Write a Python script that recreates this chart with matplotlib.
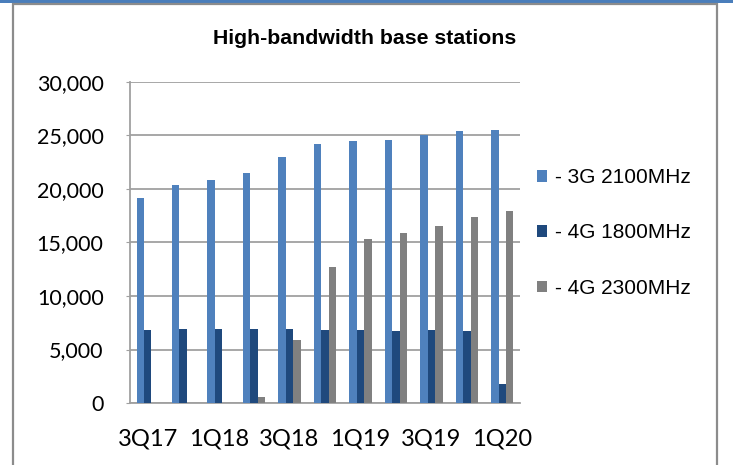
import matplotlib
matplotlib.use("Agg")
import matplotlib.pyplot as plt
from matplotlib.patches import Rectangle
from matplotlib.ticker import FuncFormatter
import numpy as np

quarters = ["3Q17", "4Q17", "1Q18", "2Q18", "3Q18", "4Q18",
            "1Q19", "2Q19", "3Q19", "4Q19", "1Q20"]
g3_2100 = [19200, 20400, 20800, 21500, 23000, 24200, 24500, 24600, 25000, 25400, 25500]
g4_1800 = [6800, 6900, 6900, 6900, 6900, 6800, 6800, 6700, 6800, 6700, 1800]
g4_2300 = [0, 0, 0, 600, 5900, 12700, 15300, 15900, 16500, 17400, 17900]
series_names = ["- 3G 2100MHz", "- 4G 1800MHz", "- 4G 2300MHz"]
colors = ["#4F81BD", "#1F497D", "#808080"]

W, H = 733, 465
fig = plt.figure(figsize=(W / 100, H / 100), dpi=100)

# blue strip on top and grey frame
fig.patches.append(Rectangle((0, 1 - 3 / H), 1, 3 / H, transform=fig.transFigure,
                             facecolor="#4A7EBB", edgecolor="none"))
fig.patches.append(Rectangle((13.5 / W, -0.05), (717 - 13.5) / W, 1.05 - 4.5 / H,
                             transform=fig.transFigure, facecolor="none",
                             edgecolor="#8C8C8C", linewidth=1.6))

ax = fig.add_axes([130 / W, 1 - 403 / H, (520 - 130) / W, (403 - 82) / H])

x = np.arange(len(quarters))
w = 0.21
for i, (vals, name, c) in enumerate(zip([g3_2100, g4_1800, g4_2300], series_names, colors)):
    ax.bar(x + (i - 1) * w, vals, w, color=c, label=name, zorder=3)

ax.set_ylim(0, 30000)
ax.set_xlim(-0.5, len(quarters) - 0.5)
ax.set_yticks(range(0, 30001, 5000))
ax.yaxis.set_major_formatter(FuncFormatter(lambda v, p: "{:,.0f}".format(v)))
ax.set_xticks(x[::2])
ax.set_xticklabels(quarters[::2])
ax.grid(axis="y", color="#A0A0A0", linewidth=1.3, zorder=0)
for s in ["top", "right"]:
    ax.spines[s].set_visible(False)
for s in ["left", "bottom"]:
    ax.spines[s].set_color("#A0A0A0")
    ax.spines[s].set_linewidth(1.3)
ax.tick_params(axis="y", length=3, color="#A0A0A0", labelsize=15.5, pad=16)
ax.tick_params(axis="x", length=0, labelsize=17, pad=18)
for lab in ax.get_xticklabels() + ax.get_yticklabels():
    lab.set_family(["Lato", "DejaVu Sans"])

fig.text(365 / W, 1 - 38 / H, "High-bandwidth base stations", ha="center", va="center",
         fontsize=15.3, fontweight="bold", family=["Liberation Sans"])

ax.legend(loc="center left", bbox_to_anchor=(537 / W, 1 - 233 / H),
          bbox_transform=fig.transFigure, frameon=False, borderpad=0, borderaxespad=0,
          prop={"family": "Liberation Sans", "size": 15},
          handlelength=0.5, handleheight=0.5, handletextpad=0.35, labelspacing=1.75)

plt.savefig("out.png", dpi=100)
